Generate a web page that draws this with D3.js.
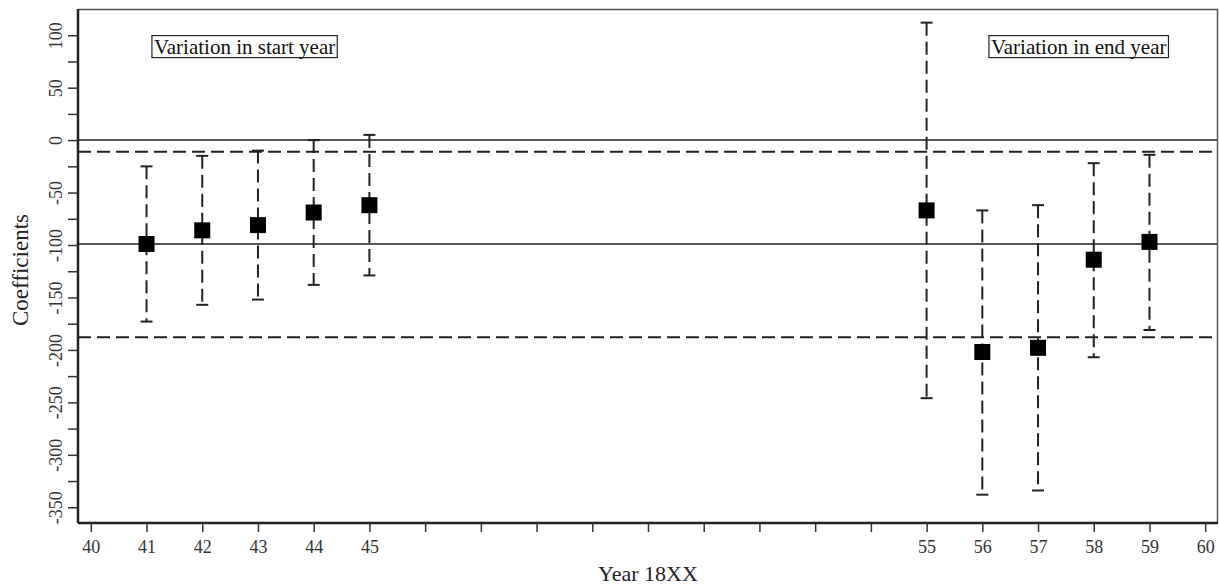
<!DOCTYPE html>
<html>
<head>
<meta charset="utf-8">
<script src="https://cdn.jsdelivr.net/npm/d3@7"></script>
<style>
  body { margin: 0; background: #fff; }
  svg { display: block; }
  svg text { font-family: "Liberation Serif", "Times New Roman", Times, serif !important; }
</style>
</head>
<body>
<div id="chart"></div>
<script>
// data
var years  = [41, 42, 43, 44, 45, 55, 56, 57, 58, 59];
var coef   = [-99, -86, -81, -69, -62, -67, -202, -198, -114, -97];
var upper  = [-25, -15, -10, 0, 5, 112, -67, -62, -22, -14];
var lower  = [-173, -157, -152, -138, -129, -246, -338, -334, -207, -181];

var refSolid  = [0, -99];
var refDashed = [-11, -188];

var groupLabels = ["Variation in start year", "Variation in end year"];
var groupLabelX = [42.76, 57.73];
var groupLabelY = 89.5;

var xTicks = d3.range(40, 61);
var xLabelled = [40, 41, 42, 43, 44, 45, 55, 56, 57, 58, 59, 60];
var yTicks = d3.range(-350, 101, 25);
var yLabelled = d3.range(-350, 101, 50);

var W = 1219, H = 587;
var margin = {top: 9, right: 1, bottom: 64, left: 78};
var width = W - margin.left - margin.right,
    height = H - margin.top - margin.bottom;

var svg = d3.select("#chart").append("svg")
    .attr("width", W)
    .attr("height", H)
    .attr("font-family", "Liberation Serif");

var g = svg.append("g")
    .attr("transform", "translate(" + margin.left + "," + margin.top + ")");

var x = d3.scaleLinear().domain([39.77, 60.23]).range([0, width]);
var y = d3.scaleLinear().domain([125, -365]).range([0, height]);

// frame (top / right)
g.append("path")
  .attr("d", "M0,0.5H" + (width - 0.5) + "V" + height)
  .attr("fill", "none")
  .attr("stroke", "#555")
  .attr("stroke-width", 1.5);

// reference lines
g.selectAll(".refSolid").data(refSolid).enter().append("line")
    .attr("x1", 0).attr("x2", width)
    .attr("y1", function(d){ return y(d); })
    .attr("y2", function(d){ return y(d); })
    .attr("stroke", "#555")
    .attr("stroke-width", 2);

g.selectAll(".refDashed").data(refDashed).enter().append("line")
    .attr("x1", 0).attr("x2", width)
    .attr("y1", function(d){ return y(d); })
    .attr("y2", function(d){ return y(d); })
    .attr("stroke", "#222")
    .attr("stroke-width", 2)
    .attr("stroke-dasharray", "13,6");

// error bars
var pts = years.map(function(yr, i){
  return {year: yr, c: coef[i], hi: upper[i], lo: lower[i]};
});

var bars = g.append("g").selectAll("g").data(pts).enter().append("g");

bars.append("line")
    .attr("x1", function(d){ return x(d.year); })
    .attr("x2", function(d){ return x(d.year); })
    .attr("y1", function(d){ return y(d.hi); })
    .attr("y2", function(d){ return y(d.lo); })
    .attr("stroke", "#222")
    .attr("stroke-width", 2)
    .attr("stroke-dasharray", "13,6");

["hi", "lo"].forEach(function(k){
  bars.append("line")
      .attr("x1", function(d){ return x(d.year) - 6; })
      .attr("x2", function(d){ return x(d.year) + 6; })
      .attr("y1", function(d){ return y(d[k]); })
      .attr("y2", function(d){ return y(d[k]); })
      .attr("stroke", "#222")
      .attr("stroke-width", 2);
});

bars.append("rect")
    .attr("x", function(d){ return x(d.year) - 8; })
    .attr("y", function(d){ return y(d.c) - 8; })
    .attr("width", 16)
    .attr("height", 16)
    .attr("fill", "#000");

// axes
var xAxis = g.append("g")
    .call(d3.axisBottom(x).tickValues(xTicks).tickSize(9).tickPadding(8)
      .tickFormat(function(d){ return xLabelled.indexOf(d) >= 0 ? d : ""; }))
    .attr("transform", "translate(0," + height + ")")
    .attr("font-family", "Liberation Serif");
xAxis.select(".domain").attr("stroke", "#222").attr("stroke-width", 2.5)
    .attr("d", "M0,0H" + width);
xAxis.selectAll(".tick line").attr("stroke", "#333").attr("stroke-width", 1.5);
xAxis.selectAll(".tick text")
    .attr("font-size", 18)
    .attr("fill", "#333");

var yAxis = g.append("g")
    .call(d3.axisLeft(y).tickValues(yTicks).tickSize(10)
      .tickFormat(function(d){ return yLabelled.indexOf(d) >= 0 ? d : ""; }))
    .attr("font-family", "Liberation Serif");
yAxis.select(".domain").attr("stroke", "#222").attr("stroke-width", 2.5)
    .attr("d", "M0,0V" + height);
yAxis.selectAll(".tick line").attr("stroke", "#333").attr("stroke-width", 1.5);
yAxis.selectAll(".tick text")
    .attr("font-size", 18)
    .attr("fill", "#333")
    .attr("text-anchor", "middle")
    .attr("dy", 0)
    .attr("x", 0)
    .attr("transform", "translate(-16,0) rotate(-90)");

// group label boxes
groupLabels.forEach(function(t, i){
  var lg = g.append("g");
  var txt = lg.append("text")
      .attr("x", x(groupLabelX[i]))
      .attr("y", y(groupLabelY))
      .attr("dy", "0.35em")
      .attr("text-anchor", "middle")
      .attr("font-size", 21)
      .attr("fill", "#111")
      .text(t);
  var bb = txt.node().getBBox();
  lg.insert("rect", "text")
      .attr("x", bb.x - 2)
      .attr("y", bb.y + 1)
      .attr("width", bb.width + 4)
      .attr("height", bb.height - 2)
      .attr("fill", "#fff")
      .attr("stroke", "#222")
      .attr("stroke-width", 1.2);
});

// axis titles
svg.append("text")
    .attr("text-anchor", "middle")
    .attr("transform", "translate(28," + (margin.top + height / 2 + 4) + ") rotate(-90)")
    .attr("font-size", 23)
    .attr("fill", "#222")
    .text("Coefficients");

svg.append("text")
    .attr("text-anchor", "middle")
    .attr("x", margin.left + width / 2)
    .attr("y", 581)
    .attr("font-size", 22)
    .attr("fill", "#222")
    .text("Year 18XX");
</script>
</body>
</html>
